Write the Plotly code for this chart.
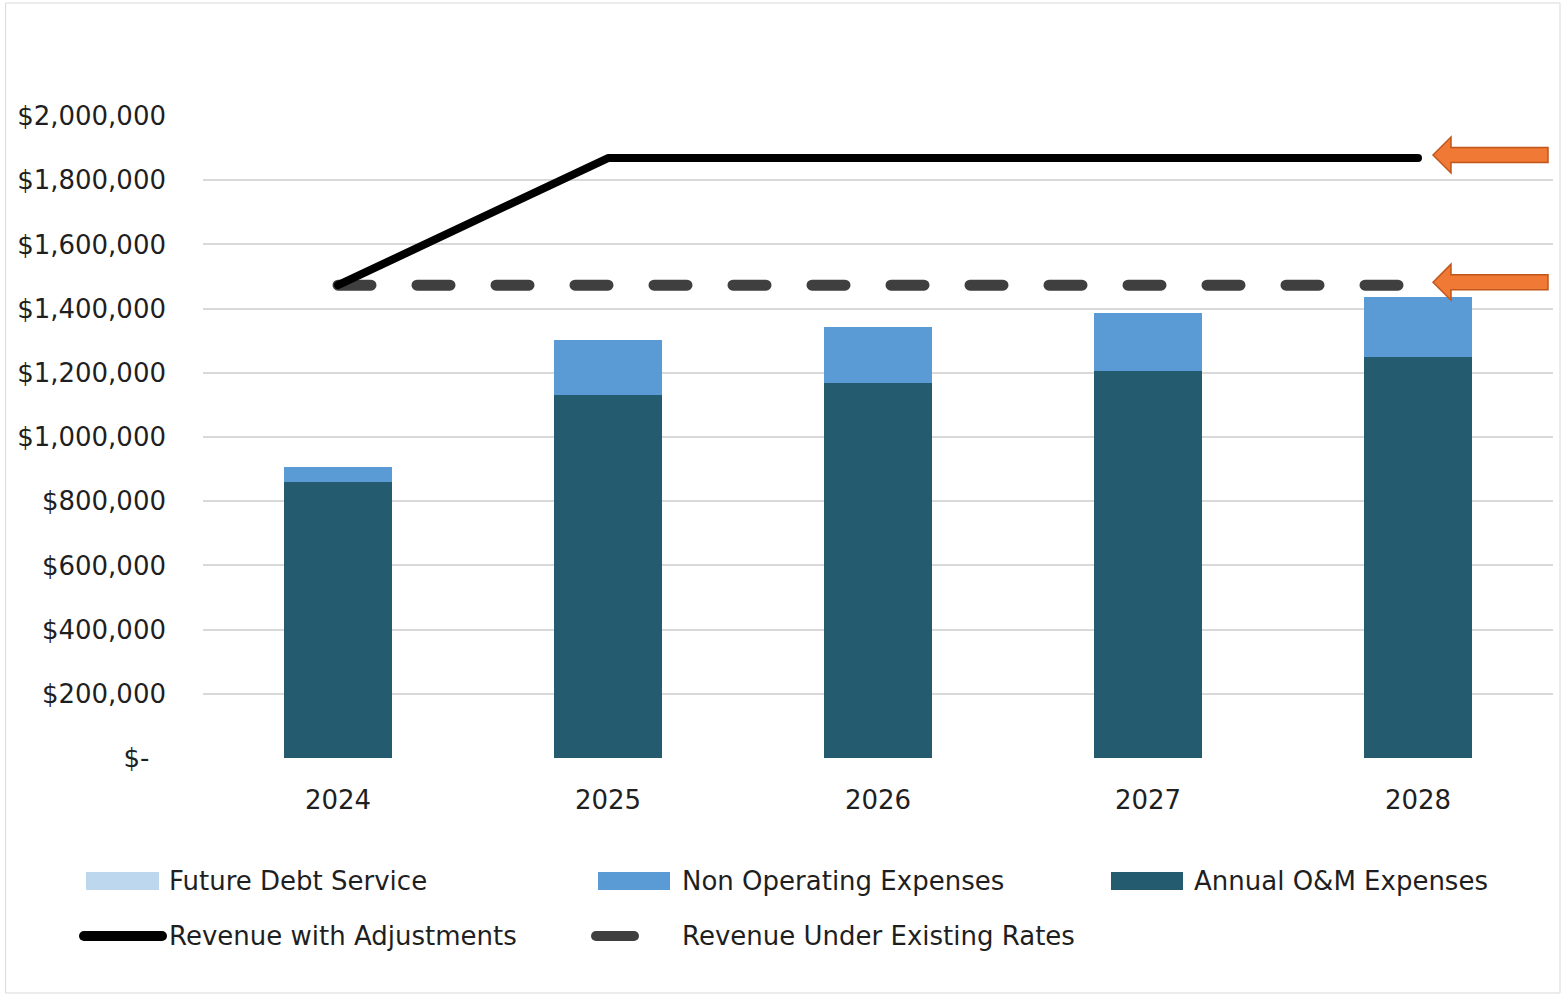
import plotly.graph_objects as go

years = ["2024", "2025", "2026", "2027", "2028"]
om_expenses = [860000, 1131000, 1168000, 1206000, 1249000]
non_operating = [47000, 171000, 175000, 180000, 187000]
future_debt = [0, 0, 0, 0, 0]
revenue_adjusted = [1473000, 1869000, 1869000, 1869000, 1869000]
revenue_existing = [1473000, 1473000, 1473000, 1473000, 1473000]
tick_vals = [0, 200000, 400000, 600000, 800000, 1000000, 1200000, 1400000, 1600000, 1800000, 2000000]
tick_text = ["$-\u00a0\u00a0", "$200,000", "$400,000", "$600,000", "$800,000", "$1,000,000",
             "$1,200,000", "$1,400,000", "$1,600,000", "$1,800,000", "$2,000,000"]

C_OM = "#255B6E"
C_NON = "#5B9BD5"
C_FDS = "#BDD7EE"
C_ADJ = "#000000"
C_EXI = "#3F3F3F"
FONT = "DejaVu Sans"
FS = 26
TXT = "#1f1f1f"

W, H = 1563, 995
L, R, T, B = 203, 1553, 116, 758


def px(x):
    return (x - L) / (R - L)


def py(y):
    return (B - y) / (B - T)


fig = go.Figure()
fig.add_bar(x=years, y=om_expenses, name="Annual O&M Expenses", marker_color=C_OM,
            marker_line_width=0, showlegend=False)
fig.add_bar(x=years, y=non_operating, name="Non Operating Expenses", marker_color=C_NON,
            marker_line_width=0, showlegend=False)
fig.add_bar(x=years, y=future_debt, name="Future Debt Service", marker_color=C_FDS,
            marker_line_width=0, showlegend=False)
fig.add_scatter(x=years, y=revenue_existing, mode="lines", name="Revenue Under Existing Rates",
                line=dict(color=C_EXI, width=11, dash="33px,46px"), showlegend=False)
fig.add_scatter(x=years, y=revenue_adjusted, mode="lines", name="Revenue with Adjustments",
                line=dict(color=C_ADJ, width=8), showlegend=False)

shapes = []
# outer chart border
shapes.append(dict(type="rect", xref="paper", yref="paper", x0=px(6), x1=px(1560), y0=py(993), y1=py(3),
                   line=dict(color="#D9D9D9", width=1), fillcolor="rgba(0,0,0,0)", layer="below"))
# orange arrows pointing at the two revenue lines
arrow_path = "M -120,3 L -102,21 L -102,10.5 L -5,10.5 L -5,-4.5 L -102,-4.5 L -102,-15 Z"
for val in (revenue_adjusted[-1], revenue_existing[-1]):
    shapes.append(dict(type="path", xref="paper", yref="y", xsizemode="pixel", ysizemode="pixel",
                       xanchor=1, yanchor=val, path=arrow_path,
                       fillcolor="#F07935", line=dict(color="#C0561A", width=1.5)))

# manual legend
row1, row2 = 881, 936
legend_items = [
    ("rect", 86, 159, row1, C_FDS, 167, "Future Debt Service"),
    ("rect", 598, 670, row1, C_NON, 680, "Non Operating Expenses"),
    ("rect", 1111, 1183, row1, C_OM, 1192, "Annual O&M Expenses"),
    ("line", 84, 162, row2, C_ADJ, 167, "Revenue with Adjustments"),
    ("line", 596, 634, row2, C_EXI, 680, "Revenue Under Existing Rates"),
]
annotations = []
for kind, x0, x1, yc, col, tx, label in legend_items:
    if kind == "rect":
        shapes.append(dict(type="rect", xref="paper", yref="paper", x0=px(x0), x1=px(x1),
                           y0=py(yc + 9), y1=py(yc - 9), fillcolor=col, line=dict(width=0)))
    else:
        shapes.append(dict(type="line", xref="paper", yref="paper", x0=px(x0), x1=px(x1),
                           y0=py(yc), y1=py(yc), line=dict(color=col, width=10)))
    annotations.append(dict(xref="paper", yref="paper", x=px(tx), y=py(yc), text=label,
                            showarrow=False, xanchor="left", yanchor="middle",
                            font=dict(family=FONT, size=FS, color=TXT)))

fig.update_layout(
    width=W, height=H,
    margin=dict(l=L, r=W - R, t=T, b=H - B, pad=0),
    paper_bgcolor="white", plot_bgcolor="white",
    barmode="stack", bargap=0.6,
    font=dict(family=FONT, size=FS, color=TXT),
    shapes=shapes, annotations=annotations,
    showlegend=False,
    xaxis=dict(type="category", showgrid=False, zeroline=False, showline=False,
               ticks="", ticklabelstandoff=24, tickfont=dict(family=FONT, size=FS, color=TXT)),
    yaxis=dict(range=[0, 2000000], tickvals=tick_vals, ticktext=tick_text,
               showgrid=True, gridcolor="#D9D9D9", gridwidth=2, zeroline=False, showline=False,
               ticks="", ticklabelstandoff=36, tickfont=dict(family=FONT, size=FS, color=TXT)),
)

post = """
document.body.style.margin='0';
document.querySelectorAll('.scatterlayer path.js-line').forEach(function(p){p.style.strokeLinecap='round';p.style.strokeLinejoin='round';});
document.querySelectorAll('.shapelayer path').forEach(function(p){p.style.strokeLinecap='round';});
"""
fig.write_html("out.html", post_script=post, config={"displayModeBar": False})
